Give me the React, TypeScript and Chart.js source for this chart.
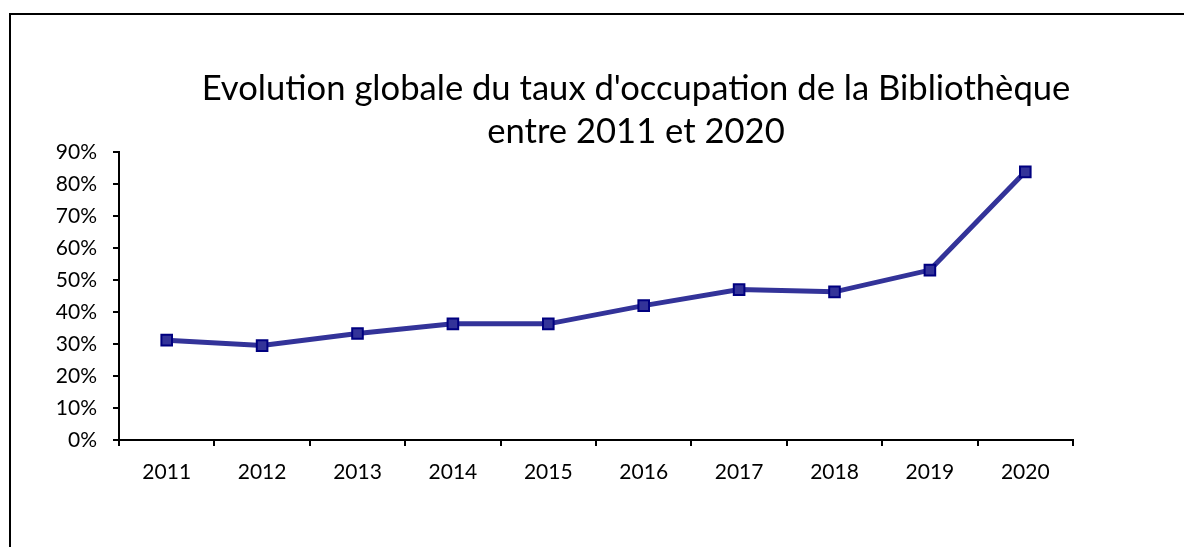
import React, { useEffect, useRef } from "react";
import { Chart, registerables } from "chart.js";

Chart.register(...registerables);

const years = ["2011", "2012", "2013", "2014", "2015", "2016", "2017", "2018", "2019", "2020"];
const occupation = [31.2, 29.5, 33.3, 36.3, 36.3, 42.0, 47.0, 46.3, 53.1, 83.8];
const yTicks = [0, 10, 20, 30, 40, 50, 60, 70, 80, 90];
const titleLines = [
  "Evolution globale du taux d'occupation de la Bibliothèque",
  "entre 2011 et 2020",
];

const FONT = "Lato, 'Open Sans', 'Noto Sans', sans-serif";

const titlePlugin = {
  id: "customTitle",
  afterDraw(chart: any) {
    const ctx = chart.ctx;
    ctx.save();
    ctx.fillStyle = "#000";
    ctx.textAlign = "center";
    ctx.textBaseline = "alphabetic";
    ctx.font = `30px ${FONT}`;
    const w30 = ctx.measureText(titleLines[0]).width;
    const size = (30 * 869) / w30;
    ctx.font = `${size}px ${FONT}`;
    ctx.fillText(titleLines[0], 636, 100);
    ctx.fillText(titleLines[1], 636, 143);
    ctx.restore();
  },
};

export default function App() {
  const ref = useRef<HTMLCanvasElement | null>(null);

  useEffect(() => {
    document.body.style.margin = "0";
    const canvas = ref.current!;
    const chart = new Chart(canvas, {
      type: "line",
      data: {
        labels: years,
        datasets: [
          {
            data: occupation,
            borderColor: "#333399",
            borderWidth: 5,
            backgroundColor: "#333399",
            pointStyle: "rect",
            pointRadius: 7.5,
            pointHoverRadius: 7.5,
            pointBackgroundColor: "#333399",
            pointBorderColor: "#000080",
            pointBorderWidth: 2,
            tension: 0,
            fill: false,
          },
        ],
      },
      options: {
        animation: false,
        responsive: false,
        events: [],
        layout: { padding: { top: 152, left: 0, right: 111, bottom: 47 } },
        plugins: {
          legend: { display: false },
          title: { display: false },
          tooltip: { enabled: false },
        },
        scales: {
          x: {
            offset: true,
            grid: {
              offset: true,
              drawOnChartArea: false,
              drawTicks: true,
              tickLength: 6,
              color: "#000",
              lineWidth: 2,
            },
            border: { display: true, color: "#000", width: 2 },
            ticks: {
              color: "#000",
              font: { family: FONT, size: 21 },
              padding: 14,
              maxRotation: 0,
              autoSkip: false,
            },
            afterFit: (s: any) => {
              s.height = 60;
            },
          },
          y: {
            min: 0,
            max: 90,
            afterBuildTicks: (s: any) => {
              s.ticks = yTicks.map((v) => ({ value: v }));
            },
            grid: {
              drawOnChartArea: false,
              drawTicks: true,
              tickLength: 6,
              color: "#000",
              lineWidth: 2,
            },
            border: { display: true, color: "#000", width: 2 },
            ticks: {
              color: "#000",
              font: { family: FONT, size: 21 },
              padding: 16,
              callback: (v: any) => `${v}%`,
            },
            afterFit: (s: any) => {
              s.width = 119;
            },
          },
        },
      },
      plugins: [titlePlugin],
    });
    return () => chart.destroy();
  }, []);

  return (
    <div style={{ position: "fixed", left: 0, top: 0, width: 1184, height: 547, overflow: "hidden", background: "#fff" }}>
      <div
        style={{
          position: "absolute",
          left: 9,
          top: 13,
          width: 1180,
          height: 600,
          borderTop: "2px solid #000",
          borderLeft: "2px solid #000",
          boxSizing: "border-box",
        }}
      />
      <canvas ref={ref} width={1184} height={547} style={{ position: "absolute", left: 0, top: 0 }} />
    </div>
  );
}
